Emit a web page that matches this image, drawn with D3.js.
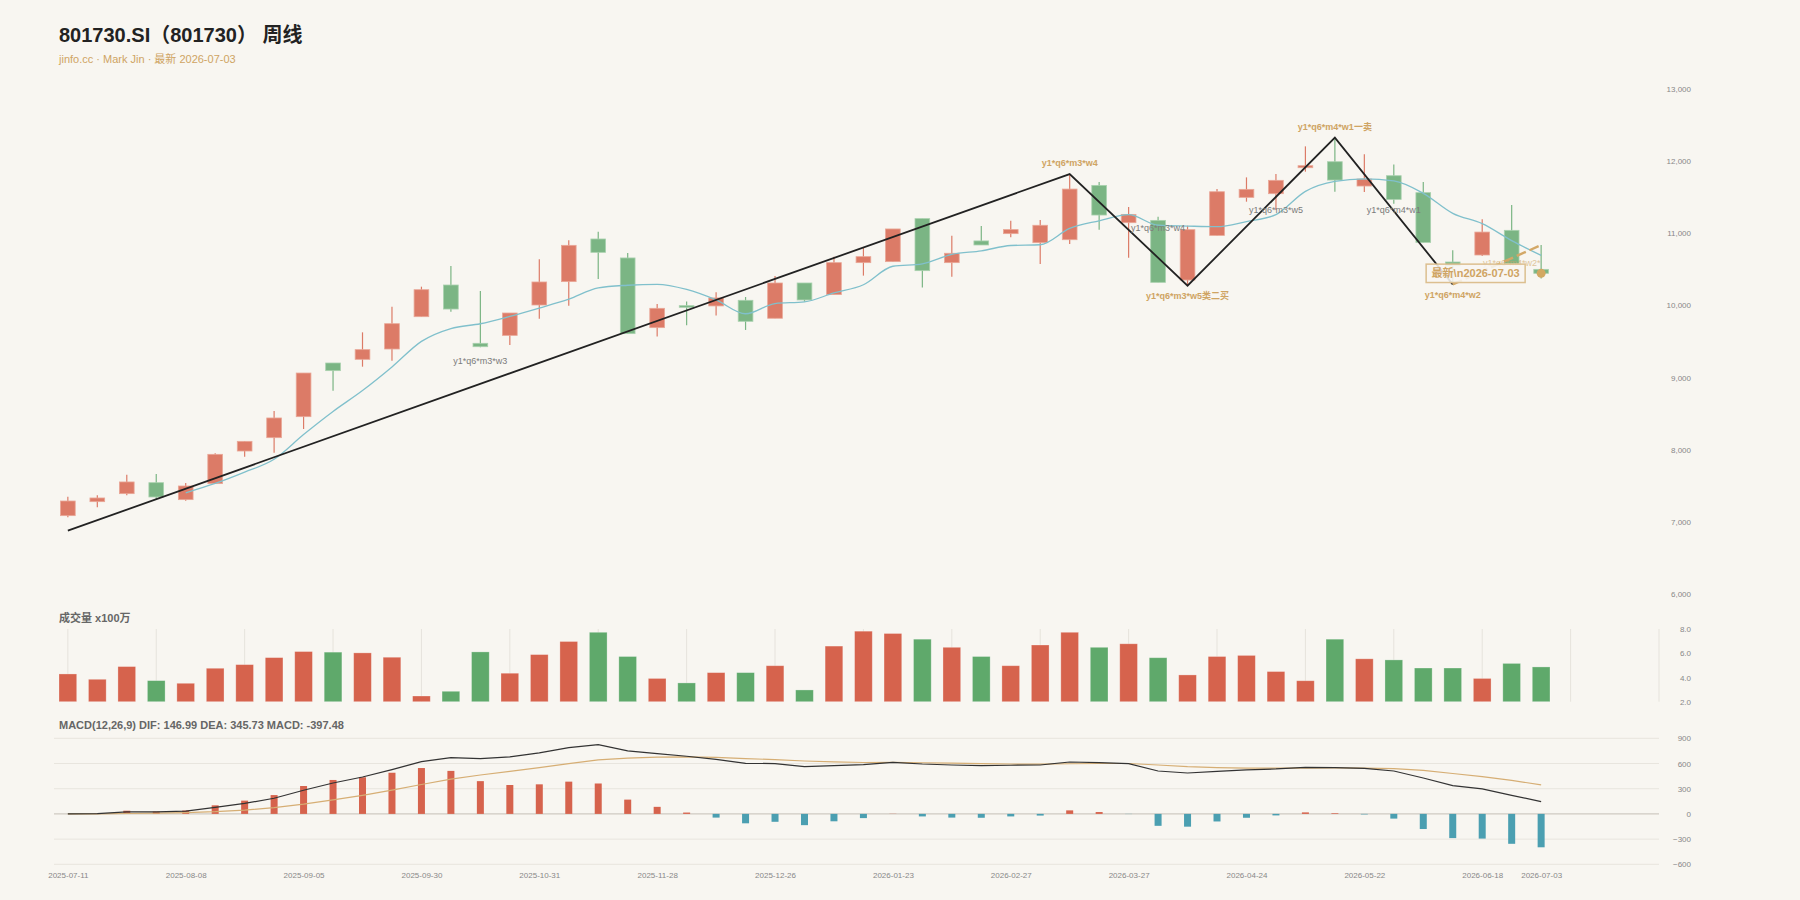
<!DOCTYPE html>
<html>
<head>
<meta charset="utf-8">
<script src="https://cdn.jsdelivr.net/npm/d3@7"></script>
<style>
  html, body { margin: 0; padding: 0; background: #f8f6f1; }
  svg { display: block; }
  text { font-family: "Liberation Sans", Arial, "Noto Sans CJK SC", sans-serif; }
</style>
</head>
<body>
<svg id="chart" width="1800" height="900"></svg>
<script>
// weekly bars, last trading day of each week
var dates = ["2025-07-11", "2025-07-18", "2025-07-25", "2025-08-01", "2025-08-08", "2025-08-15", "2025-08-22", "2025-08-29",
             "2025-09-05", "2025-09-12", "2025-09-19", "2025-09-26", "2025-09-30", "2025-10-10", "2025-10-17", "2025-10-24",
             "2025-10-31", "2025-11-07", "2025-11-14", "2025-11-21", "2025-11-28", "2025-12-05", "2025-12-12", "2025-12-19",
             "2025-12-26", "2025-12-31", "2026-01-09", "2026-01-16", "2026-01-23", "2026-01-30", "2026-02-06", "2026-02-13",
             "2026-02-27", "2026-03-06", "2026-03-13", "2026-03-20", "2026-03-27", "2026-04-03", "2026-04-10", "2026-04-17",
             "2026-04-24", "2026-04-30", "2026-05-08", "2026-05-15", "2026-05-22", "2026-05-29", "2026-06-05", "2026-06-12",
             "2026-06-18", "2026-06-26", "2026-07-03"];

var opens  = [7086, 7280, 7391, 7543, 7308, 7530, 7982, 8167, 8458, 9202, 9253, 9396, 9844, 10283, 9475, 9585, 10006,
              10330, 10921, 10658, 9692, 9997, 9993, 10071, 9822, 10311, 10150, 10593, 10607, 11203, 10593, 10894, 10995,
              10870, 10911, 11664, 11147, 11179, 10352, 10971, 11498, 11549, 11909, 11992, 11655, 11798, 11563, 10602,
              10699, 11041, 10500];
var highs  = [7349, 7368, 7654, 7664, 7539, 7950, 8116, 8537, 9063, 9202, 9627, 9983, 10260, 10546, 10200, 9895, 10639,
              10903, 11023, 10727, 10020, 10053, 10182, 10117, 10408, 10311, 10676, 10806, 11060, 11203, 10967, 11101, 11175,
              11185, 11821, 11710, 11364, 11230, 11105, 11613, 11775, 11821, 12205, 12325, 12094, 11955, 11710, 10764,
              11193, 11392, 10837];
var lows   = [7063, 7202, 7368, 7312, 7294, 7530, 7904, 7959, 8287, 8819, 9151, 9234, 9844, 9913, 9419, 9451, 9816,
              9997, 10367, 9609, 9568, 9725, 9859, 9660, 9822, 10053, 10150, 10413, 10607, 10247, 10399, 10838, 10944,
              10575, 10851, 11050, 10662, 10320, 10274, 10971, 11438, 11322, 11854, 11576, 11572, 11410, 10874, 10292,
              10685, 10583, 10375];
var closes = [7289, 7331, 7553, 7345, 7497, 7936, 8116, 8440, 9063, 9096, 9387, 9747, 10218, 9950, 9428, 9895, 10325,
              10833, 10736, 9609, 9960, 9974, 10104, 9780, 10311, 10076, 10593, 10676, 11060, 10482, 10723, 10838, 11051,
              11111, 11613, 11253, 11262, 10320, 11050, 11576, 11609, 11734, 11937, 11738, 11752, 11470, 10874, 10550,
              11017, 10583, 10445];

// MA5 of close (first four weeks have none)
var ma5 = [null, null, null, null, 7403, 7532, 7689, 7867, 8210, 8530, 8820, 9147, 9502, 9680, 9746, 9848, 9963,
           10086, 10243, 10280, 10293, 10222, 10077, 9885, 10026, 10049, 10173, 10287, 10543, 10577, 10707, 10756, 10831,
           10841, 11067, 11173, 11258, 11112, 11100, 11092, 11163, 11258, 11581, 11719, 11754, 11726, 11554, 11277,
           11133, 10899, 10694];

// volume, x100万
var volumes = [4.29, 3.85, 4.90, 3.74, 3.52, 4.76, 5.06, 5.64, 6.14, 6.09, 6.03, 5.67, 2.47, 2.86, 6.11, 4.35, 5.89,
               6.97, 7.73, 5.73, 3.92, 3.55, 4.40, 4.40, 4.97, 2.97, 6.59, 7.82, 7.63, 7.16, 6.49, 5.73, 4.97,
               6.68, 7.73, 6.49, 6.78, 5.63, 4.21, 5.73, 5.82, 4.49, 3.73, 7.16, 5.54, 5.45, 4.78, 4.78,
               3.92, 5.16, 4.87];

// MACD(12,26,9)
var dif = [0, 3, 24, 23, 34, 77, 125, 186, 282, 368, 439, 527, 623, 670, 658, 678, 726, 790, 825, 750, 718, 686, 650,
           602, 599, 563, 575, 587, 614, 594, 582, 575, 579, 582, 618, 611, 599, 511, 487, 507, 523, 535, 555, 551, 543,
           511, 427, 337, 297, 221, 146.99];
var dea = [0, 1, 5, 9, 14, 26, 46, 74, 116, 166, 221, 282, 350, 414, 463, 506, 550, 598, 644, 665, 676, 678, 672,
           658, 646, 630, 619, 612, 613, 609, 604, 598, 594, 592, 597, 600, 600, 582, 563, 552, 546, 544, 546, 547, 546,
           539, 517, 481, 444, 399, 345.73];
var macdHist = [0, 4, 38, 28, 40, 102, 158, 224, 332, 404, 436, 490, 546, 512, 390, 344, 352, 384, 362, 170, 84, 16, -44,
                -112, -94, -134, -88, -50, 2, -30, -44, -46, -30, -20, 42, 22, -2, -142, -152, -90, -46, -18, 18, 8, -6,
                -56, -180, -288, -294, -356, -397.48];

// tick labels
var dateTickIdx = [0, 4, 8, 12, 16, 20, 24, 28, 32, 36, 40, 44, 48, 50];
var priceTicks = [6000, 7000, 8000, 9000, 10000, 11000, 12000, 13000];
var volTicks = [2, 4, 6, 8];
var macdTicks = [-600, -300, 0, 300, 600, 900];

// zigzag pivots (bar index, price) and the open last stroke
var strokeIdx = [0, 34, 38, 43, 47];
var strokeVal = [6878, 11821, 10274, 12325, 10292];
var strokeLabels = ["", "y1*q6*m3*w4", "y1*q6*m3*w5类二买", "y1*q6*m4*w1一卖", "y1*q6*m4*w2"];
var projIdx = [47, 50];
var projVal = [10292, 10837];

// grey segment labels
var segIdx = [14, 37, 41, 45, 49];
var segVal = [9226, 11073, 11319, 11323, 10584];
var segText = ["y1*q6*m3*w3", "y1*q6*m3*w4", "y1*q6*m3*w5", "y1*q6*m4*w1", "y1*q6*m4*w2*"];

var W = 1800, H = 900;
var UP = "#dc7b67", DOWN = "#7bb584";
var TAN = "#cfa463";

var svg = d3.select("#chart");
svg.append("rect").attr("width", W).attr("height", H).attr("fill", "#f8f6f1");

var x = d3.scaleLinear().domain([-0.47, 54]).range([54, 1659]);
var yPrice = d3.scaleLinear().domain([6000, 13000]).range([594, 89]);
var yVol = d3.scaleLinear().domain([2, 8]).range([701.7, 629]);
var yMacd = d3.scaleLinear().domain([-600, 900]).range([864.3, 738.3]);

// ---- titles
svg.append("text").attr("x", 59).attr("y", 41.5)
   .attr("font-size", 20).attr("font-weight", "bold").attr("fill", "#222")
   .text("801730.SI（801730） 周线");
svg.append("text").attr("x", 59).attr("y", 62.5)
   .attr("font-size", 11).attr("fill", TAN)
   .text("jinfo.cc · Mark Jin · 最新 2026-07-03");

// ---- price panel
var bars = dates.map(function(d, i) {
   return { i: i, o: opens[i], h: highs[i], l: lows[i], c: closes[i] };
});

var gCandle = svg.append("g");
var cg = gCandle.selectAll("g").data(bars).enter().append("g");
cg.append("line")
   .attr("x1", function(d) { return x(d.i); })
   .attr("x2", function(d) { return x(d.i); })
   .attr("y1", function(d) { return yPrice(d.h); })
   .attr("y2", function(d) { return yPrice(d.l); })
   .attr("stroke", function(d) { return d.c >= d.o ? UP : DOWN; })
   .attr("stroke-width", 1.2);
cg.append("rect")
   .attr("x", function(d) { return x(d.i) - 7.35; })
   .attr("width", 14.7)
   .attr("y", function(d) { return yPrice(Math.max(d.o, d.c)); })
   .attr("height", function(d) { return Math.max(1.5, Math.abs(yPrice(d.o) - yPrice(d.c))); })
   .attr("fill", function(d) { return d.c >= d.o ? UP : DOWN; })
   .attr("stroke", function(d) { return d.c >= d.o ? "#e9a797" : "#a9d1ae"; })
   .attr("stroke-width", 0.8);

var maLine = d3.line()
   .defined(function(d) { return d != null; })
   .x(function(d, i) { return x(i); })
   .y(function(d) { return yPrice(d); })
   .curve(d3.curveMonotoneX);
svg.append("path").datum(ma5).attr("d", maLine)
   .attr("fill", "none").attr("stroke", "#80c0cc").attr("stroke-width", 1.3);

// zigzag strokes
var zz = d3.line().x(function(d) { return x(d[0]); }).y(function(d) { return yPrice(d[1]); });
svg.append("path").datum(d3.zip(strokeIdx, strokeVal)).attr("d", zz)
   .attr("fill", "none").attr("stroke", "#222").attr("stroke-width", 1.8);
svg.append("path").datum(d3.zip(projIdx, projVal)).attr("d", zz)
   .attr("fill", "none").attr("stroke", "#d3a867").attr("stroke-width", 2.4)
   .attr("stroke-dasharray", "10,4");

// grey labels
svg.append("g").selectAll("text").data(segText).enter().append("text")
   .attr("x", function(d, i) { return x(segIdx[i]); })
   .attr("y", function(d, i) { return yPrice(segVal[i]); })
   .attr("dy", "0.35em")
   .attr("text-anchor", "middle")
   .attr("font-size", 9)
   .attr("fill", function(d, i) { return i === 4 ? TAN : "#7b7b7b"; })
   .attr("opacity", function(d, i) { return i === 4 ? 0.6 : 1; })
   .text(function(d) { return d; });

// stroke pivot labels: tops above, bottoms below
var pivots = strokeIdx.map(function(idx, k) {
   return { i: idx, v: strokeVal[k], t: strokeLabels[k], top: k > 0 && strokeVal[k] > strokeVal[k - 1] };
}).slice(1);
svg.append("g").selectAll("text").data(pivots).enter().append("text")
   .attr("x", function(d) { return x(d.i); })
   .attr("y", function(d) { return yPrice(d.v) + (d.top ? -11 : 10); })
   .attr("dy", "0.35em")
   .attr("text-anchor", "middle")
   .attr("font-size", 9).attr("font-weight", "bold")
   .attr("fill", TAN)
   .text(function(d) { return d.t; });

// latest close marker and its label box
var lastI = closes.length - 1;
var lx = x(lastI), ly = yPrice(closes[lastI]);
svg.append("circle").attr("cx", lx).attr("cy", ly).attr("r", 4.5).attr("fill", "#d2a862");
var tag = svg.append("g").attr("transform", "translate(" + (lx - 16) + "," + ly + ")");
tag.append("rect").attr("x", -99).attr("y", -9.2).attr("width", 99).attr("height", 18.4)
   .attr("fill", "#f8f6f1").attr("fill-opacity", 0.88)
   .attr("stroke", "#dcbf8f").attr("stroke-width", 1.5);
tag.append("text").attr("x", -49.5).attr("y", 0).attr("dy", "0.36em")
   .attr("text-anchor", "middle").attr("font-size", 11).attr("font-weight", "bold")
   .attr("fill", TAN).text("最新\\n2026-07-03");

var pAxis = svg.append("g").attr("transform", "translate(1691,0)")
   .call(d3.axisLeft(yPrice).tickValues(priceTicks).tickFormat(d3.format(",")).tickSize(0).tickPadding(0));

// ---- volume panel
svg.append("text").attr("x", 59).attr("y", 621.5)
   .attr("font-size", 11).attr("font-weight", "bold").attr("fill", "#666")
   .text("成交量 x100万");

svg.append("g").selectAll("line").data(d3.range(0, 55, 3)).enter().append("line")
   .attr("x1", function(d) { return x(d); }).attr("x2", function(d) { return x(d); })
   .attr("y1", yVol(8)).attr("y2", yVol(2))
   .attr("stroke", "#e6e3dc").attr("stroke-width", 1);

svg.append("g").selectAll("rect").data(volumes).enter().append("rect")
   .attr("x", function(d, i) { return x(i) - 8.85; })
   .attr("width", 17.7)
   .attr("y", function(d) { return yVol(d); })
   .attr("height", function(d) { return yVol(2) - yVol(d); })
   .attr("fill", function(d, i) { return closes[i] >= opens[i] ? "#d6634d" : "#5fa96b"; })
   .attr("stroke", "rgba(255,255,255,0.35)").attr("stroke-width", 0.8);

var vAxis = svg.append("g").attr("transform", "translate(1691,0)")
   .call(d3.axisLeft(yVol).tickValues(volTicks).tickFormat(d3.format(".1f")).tickSize(0).tickPadding(0));

// ---- MACD panel
svg.append("text").attr("x", 59).attr("y", 728.5)
   .attr("font-size", 11).attr("font-weight", "bold").attr("fill", "#666")
   .text("MACD(12,26,9) DIF: 146.99 DEA: 345.73 MACD: -397.48");

svg.append("g").selectAll("line").data(macdTicks).enter().append("line")
   .attr("x1", 54).attr("x2", 1659)
   .attr("y1", function(d) { return yMacd(d); }).attr("y2", function(d) { return yMacd(d); })
   .attr("stroke", function(d) { return d === 0 ? "#cfcac2" : "#e8e5de"; })
   .attr("stroke-width", function(d) { return d === 0 ? 1.2 : 1; });

svg.append("g").selectAll("rect").data(macdHist).enter().append("rect")
   .attr("x", function(d, i) { return x(i) - 3.5; })
   .attr("width", 7)
   .attr("y", function(d) { return Math.min(yMacd(0), yMacd(d)); })
   .attr("height", function(d) { return Math.abs(yMacd(d) - yMacd(0)); })
   .attr("fill", function(d) { return d >= 0 ? "#d6634d" : "#4b9fb1"; });

var idxLine = d3.line().x(function(d, i) { return x(i); }).y(function(d) { return yMacd(d); });
svg.append("path").datum(dea).attr("d", idxLine)
   .attr("fill", "none").attr("stroke", "#d6ae74").attr("stroke-width", 1.2);
svg.append("path").datum(dif).attr("d", idxLine)
   .attr("fill", "none").attr("stroke", "#333").attr("stroke-width", 1.2);

var mAxis = svg.append("g").attr("transform", "translate(1691,0)")
   .call(d3.axisLeft(yMacd).tickValues(macdTicks).tickFormat(d3.format("d")).tickSize(0).tickPadding(0));

var xAxis = svg.append("g").attr("transform", "translate(0,872.5)")
   .call(d3.axisBottom(x).tickValues(dateTickIdx)
      .tickFormat(function(i) { return dates[i]; }).tickSize(0).tickPadding(0));

// shared axis styling
[pAxis, vAxis, mAxis, xAxis].forEach(function(a) {
   a.select(".domain").remove();
   a.selectAll("text").attr("font-size", 8).attr("fill", "#888")
      .attr("font-family", "Liberation Sans, Arial, sans-serif");
});
</script>
</body>
</html>
